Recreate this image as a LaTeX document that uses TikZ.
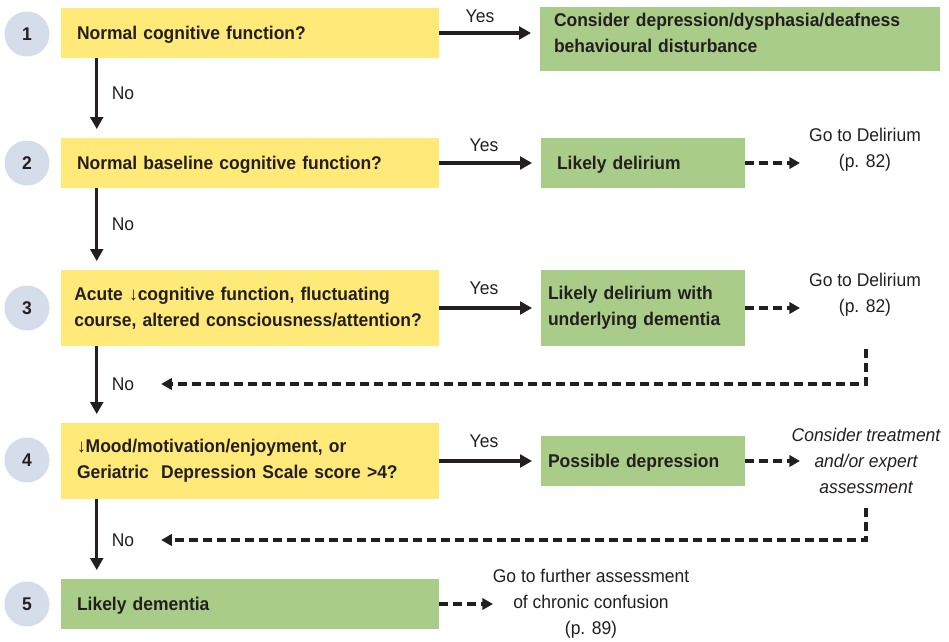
\documentclass[tikz,border=0pt]{standalone}
\usepackage{fontspec}
\setmainfont{Liberation Sans}[FakeStretch=0.95]
\usepackage{xcolor}
\usepackage{tikz}
\usetikzlibrary{arrows.meta, positioning}
\definecolor{myyellow}{RGB}{255,233,120}
\definecolor{mygreen}{RGB}{169,205,137}
\definecolor{mycircle}{RGB}{214,221,234}
\definecolor{mydark}{RGB}{35,31,32}
\newcommand{\chartsize}{\fontsize{13.8}{19.5}\selectfont}
\tikzset{
  qbox/.style={rectangle, fill=myyellow, text=mydark, text width=259.5pt,
    inner xsep=12pt, inner ysep=0pt, align=left, minimum height=37.5pt,
    font=\chartsize\bfseries},
  gbox/.style={rectangle, fill=mygreen, text=mydark, text width=142.5pt,
    inner xsep=5.25pt, inner ysep=0pt, align=left, minimum height=37.5pt,
    font=\chartsize\bfseries},
  oneline/.style={text depth=0pt},
  numcirc/.style={circle, fill=mycircle, text=mydark, minimum size=33.75pt,
    inner sep=0pt, font=\chartsize\bfseries},
  note/.style={align=center, inner sep=0pt, text=mydark, font=\chartsize},
  lbl/.style={inner sep=0pt, text=mydark, font=\chartsize},
  arrow/.style={-{Triangle[length=9pt, width=9.5pt]}, line width=2.4pt,
    color=mydark, shorten >=6.5pt},
  dasharrow/.style={-{Triangle[length=8pt, width=8.5pt]}, line width=2.6pt,
    color=mydark, dash pattern=on 6.75pt off 3.75pt}
}

\begin{document}
\begin{tikzpicture}[x=0.75pt, y=-0.75pt]
    \useasboundingbox (0,0) rectangle (949,642);

    % step numbers
    \node[numcirc] (n1) at (27,34) {1};
    \node[numcirc] (n2) at (27,163) {2};
    \node[numcirc] (n3) at (27,308) {3};
    \node[numcirc] (n4) at (27,460) {4};
    \node[numcirc] (n5) at (27,604) {5};

    % questions
    \node[qbox, oneline] (q1) at (250,33) {Normal cognitive function?};
    \node[qbox, oneline] (q2) at (250,163) {Normal baseline cognitive function?};
    \node[qbox, minimum height=57pt, text width=263.5pt, inner xsep=10pt] (q3) at (250,308)
      {Acute ↓cognitive function, fluctuating\\course, altered consciousness/attention?};
    \node[qbox, minimum height=57pt] (q4) at (250,461)
      {↓Mood/motivation/enjoyment, or\\Geriatric\ \ Depression Scale score >4?};
    \node[qbox, oneline, fill=mygreen] (r5) at (250,604) {Likely dementia};

    % outcomes
    \node[gbox, text width=279pt, inner xsep=10.5pt, minimum height=48pt] (g1) at (740,39)
      {Consider depression/dysphasia/deafness\\behavioural disturbance\\[-11pt]\mbox{}};
    \node[gbox, oneline, text width=129pt, inner xsep=12pt] (g2) at (643,163) {Likely delirium};
    \node[gbox, minimum height=57pt] (g3) at (643,308) {Likely delirium with\\underlying dementia};
    \node[gbox, oneline] (g4) at (643,461) {Possible depression};

    % referrals
    \node[note] (t2) at (865,150) {Go to Delirium\\(p. 82)};
    \node[note] (t3) at (865,295) {Go to Delirium\\(p. 82)};
    \node[note, font=\chartsize\itshape] (t4) at (866,461) {Consider treatment\\and/or expert\\assessment};
    \node[note] (t5) at (591,604) {Go to further assessment\\of chronic confusion\\(p. 89)};

    % yes / no
    \node[lbl] (y1) at (480,16) {Yes};
    \node[lbl] (y2) at (484,145) {Yes};
    \node[lbl] (y3) at (484,288) {Yes};
    \node[lbl] (y4) at (484,441) {Yes};
    \node[lbl] (no1) at (123,93) {No};
    \node[lbl] (no2) at (123,224) {No};
    \node[lbl] (no3) at (123,384) {No};
    \node[lbl] (no4) at (123,540) {No};

    \coordinate (d2) at (800,163);
    \coordinate (d3) at (800,308);
    \coordinate (d4) at (800,461);
    \coordinate (d5) at (493,604);
    \coordinate (f3) at (866,349);
    \coordinate (f4) at (866,508);

    % Yes arrows
    \draw[arrow] (q1.east) -- (q1.east -| g1.west);
    \draw[arrow] (q2) -- (g2);
    \draw[arrow] (q3) -- (g3);
    \draw[arrow] (q4) -- (g4);

    % No arrows
    \draw[arrow] ([xshift=27pt]q1.south west) -- ([xshift=27pt]q2.north west);
    \draw[arrow] ([xshift=27pt]q2.south west) -- ([xshift=27pt]q3.north west);
    \draw[arrow] ([xshift=27pt]q3.south west) -- ([xshift=27pt]q4.north west);
    \draw[arrow] ([xshift=27pt]q4.south west) -- ([xshift=27pt]r5.north west);

    % dashed referrals and returns
    \draw[dasharrow] (g2) -- (d2);
    \draw[dasharrow] (g3) -- (d3);
    \draw[dasharrow] (g4) -- (d4);
    \draw[dasharrow] (r5) -- (d5);
    \draw[dasharrow, shorten >=20pt] (f3) |- (no3);
    \draw[dasharrow, shorten >=20pt] (f4) |- (no4);
  \end{tikzpicture}
\end{document}
